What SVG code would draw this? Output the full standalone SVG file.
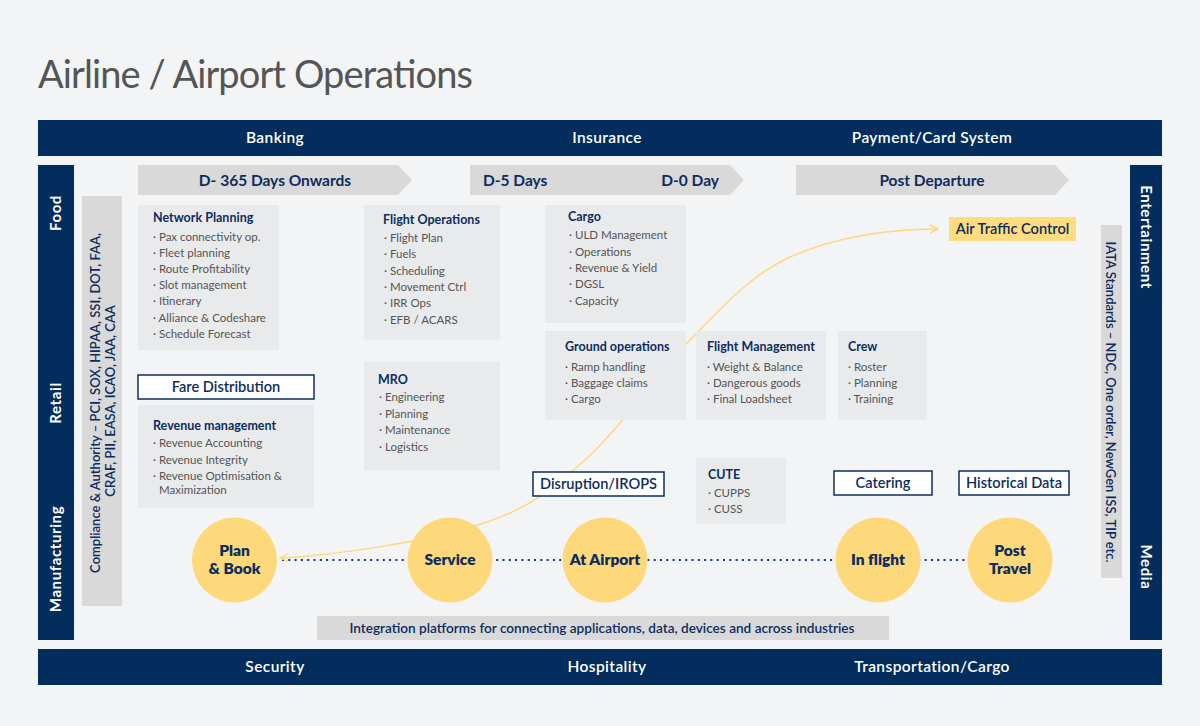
<svg xmlns="http://www.w3.org/2000/svg" width="1200" height="726" viewBox="0 0 1200 726">
<defs>
<style>
.bg{fill:#f3f4f6}
.navy{fill:#022d5c}
.band{fill:#fff;font-family:Lato,"Open Sans",sans-serif;font-size:15.5px;font-weight:600;letter-spacing:0.4px;text-anchor:middle}
.side{fill:#fff;font-family:Lato,"Open Sans",sans-serif;font-size:15px;font-weight:700;letter-spacing:0.6px;text-anchor:middle}
.chev{fill:#d9d9d9}
.chevt{fill:#0d2d5e;font-family:Lato,"Open Sans",sans-serif;font-size:15.5px;font-weight:700}
.box{fill:#e9eaec}
.hd{fill:#0d2d5e;font-family:Lato,"Open Sans",sans-serif;font-size:12.5px;font-weight:700}
.intt{fill:#0d2d5e;font-family:Lato,"Open Sans",sans-serif;font-size:13.6px;font-weight:600;text-anchor:middle}
.it{fill:#555;font-family:Lato,"Open Sans",sans-serif;font-size:11.5px}
.ob{fill:#fff;stroke:#0d2d5e;stroke-width:1.5}
.obt{fill:#0d2d5e;font-family:Lato,"Open Sans",sans-serif;font-size:14.6px;font-weight:600;text-anchor:middle}
.circ{fill:#fdd97b}
.ct{fill:#0d2d5e;font-family:Lato,"Open Sans",sans-serif;font-size:15.5px;font-weight:800;text-anchor:middle}
.gbar{fill:#d9d9d9}
.vt{fill:#0d2d5e;font-family:Lato,"Open Sans",sans-serif;font-size:13px;font-weight:600;text-anchor:middle}
</style>
<marker id="arr" viewBox="0 0 10 10" refX="9" refY="5" markerWidth="10" markerHeight="10" markerUnits="userSpaceOnUse" orient="auto-start-reverse">
<path d="M1,1 L9,5 L1,9" fill="none" stroke="#fdd97b" stroke-width="1.4"/>
</marker>
</defs>
<rect class="bg" x="0" y="0" width="1200" height="726"/>
<text x="38" y="88" fill="#555" font-family="Lato,'Open Sans',sans-serif" font-size="38" textLength="435">Airline / Airport Operations</text>

<g id="top-band">
<rect class="navy" x="38" y="120" width="1124" height="36"/>
<text class="band" x="275" y="143">Banking</text>
<text class="band" x="607" y="143">Insurance</text>
<text class="band" x="932" y="143">Payment/Card System</text>
</g>
<g id="bottom-band">
<rect class="navy" x="38" y="649" width="1124" height="36"/>
<text class="band" x="275" y="672">Security</text>
<text class="band" x="607" y="672">Hospitality</text>
<text class="band" x="932" y="672">Transportation/Cargo</text>
</g>
<g id="left-band">
<rect class="navy" x="38" y="165" width="36" height="475"/>
<text class="side" transform="translate(61,213) rotate(-90)">Food</text>
<text class="side" transform="translate(61,403) rotate(-90)">Retail</text>
<text class="side" transform="translate(61,559) rotate(-90)">Manufacturing</text>
</g>
<g id="right-band">
<rect class="navy" x="1130" y="165" width="32" height="475"/>
<text class="side" transform="translate(1141,237) rotate(90)">Entertainment</text>
<text class="side" transform="translate(1141,567) rotate(90)">Media</text>
</g>
<g id="compliance">
<rect class="gbar" x="82" y="196" width="40" height="410"/>
<text class="vt" transform="translate(100,403) rotate(-90)">Compliance &amp; Authority – PCI, SOX, HIPAA, SSI, DOT, FAA,</text>
<text class="vt" transform="translate(115,401) rotate(-90)">CRAF, PII, EASA, ICAO, JAA, CAA</text>
</g>
<g id="iata">
<rect class="gbar" x="1101" y="225" width="21" height="353"/>
<text class="vt" transform="translate(1106,402) rotate(90)">IATA Standards – NDC, One order, NewGen ISS, TIP etc.</text>
</g>

<g id="phase-d365">
<path class="chev" d="M138,165 H398 L412,180 L398,195 H138 Z"/>
<text class="chevt" x="275" y="186" text-anchor="middle">D- 365 Days Onwards</text>
</g>
<g id="phase-d5">
<path class="chev" d="M470,165 H730 L744,180 L730,195 H470 Z"/>
<text class="chevt" x="483" y="186">D-5 Days</text>
<text class="chevt" x="719" y="186" text-anchor="end">D-0 Day</text>
</g>
<g id="phase-post">
<path class="chev" d="M796,165 H1055 L1069,180 L1055,195 H796 Z"/>
<text class="chevt" x="932" y="186" text-anchor="middle">Post Departure</text>
</g>

<g id="integration">
<rect class="gbar" x="317" y="616" width="572" height="24"/>
<text class="intt" x="602" y="633">Integration platforms for connecting applications, data, devices and across industries</text>
</g>

<g id="connectors">
<line x1="282" y1="560" x2="968" y2="560" stroke="#1a2f80" stroke-width="2" stroke-dasharray="2 4.3"/>
<path d="M280,558 C340,555 427,541 478,525 C529,509 550,491 585,460 C620,429 656,374 690,340 C724,306 749,276 790,257 C831,239 878,229 938,229" fill="none" stroke="#fdd97b" stroke-width="1.5" marker-start="url(#arr)" marker-end="url(#arr)"/>
</g>

<g id="network-planning">
<rect class="box" x="138" y="205" width="141" height="145"/>
<text class="hd" x="153" y="222">Network Planning</text>
<text class="it" x="153" y="241">· Pax connectivity op.</text>
<text class="it" x="153" y="257">· Fleet planning</text>
<text class="it" x="153" y="273">· Route Profitability</text>
<text class="it" x="153" y="289">· Slot management</text>
<text class="it" x="153" y="305">· Itinerary</text>
<text class="it" x="153" y="322">· Alliance &amp; Codeshare</text>
<text class="it" x="153" y="338">· Schedule Forecast</text>
</g>
<g id="fare-distribution">
<rect class="ob" x="138" y="375" width="176" height="24"/>
<text class="obt" x="226" y="392">Fare Distribution</text>
</g>
<g id="revenue-management">
<rect class="box" x="138" y="405" width="176" height="103"/>
<text class="hd" x="153" y="430">Revenue management</text>
<text class="it" x="153" y="447">· Revenue Accounting</text>
<text class="it" x="153" y="464">· Revenue Integrity</text>
<text class="it" x="153" y="480">· Revenue Optimisation &amp;</text>
<text class="it" x="159" y="494">Maximization</text>
</g>
<g id="flight-operations">
<rect class="box" x="364" y="205" width="136" height="135"/>
<text class="hd" x="383" y="224">Flight Operations</text>
<text class="it" x="384" y="242">· Flight Plan</text>
<text class="it" x="384" y="258">· Fuels</text>
<text class="it" x="384" y="275">· Scheduling</text>
<text class="it" x="384" y="291">· Movement Ctrl</text>
<text class="it" x="384" y="307">· IRR Ops</text>
<text class="it" x="384" y="324">· EFB / ACARS</text>
</g>
<g id="mro">
<rect class="box" x="364" y="362" width="136" height="108"/>
<text class="hd" x="378" y="384">MRO</text>
<text class="it" x="379" y="401">· Engineering</text>
<text class="it" x="379" y="418">· Planning</text>
<text class="it" x="379" y="434">· Maintenance</text>
<text class="it" x="379" y="451">· Logistics</text>
</g>
<g id="cargo">
<rect class="box" x="545" y="205" width="141" height="118"/>
<text class="hd" x="568" y="221">Cargo</text>
<text class="it" x="569" y="239">· ULD Management</text>
<text class="it" x="569" y="256">· Operations</text>
<text class="it" x="569" y="272">· Revenue &amp; Yield</text>
<text class="it" x="569" y="288">· DGSL</text>
<text class="it" x="569" y="305">· Capacity</text>
</g>
<g id="ground-operations">
<rect class="box" x="545" y="331" width="141" height="89"/>
<text class="hd" x="565" y="351">Ground operations</text>
<text class="it" x="565" y="371">· Ramp handling</text>
<text class="it" x="565" y="387">· Baggage claims</text>
<text class="it" x="565" y="403">· Cargo</text>
</g>
<g id="flight-management">
<rect class="box" x="696" y="331" width="130" height="89"/>
<text class="hd" x="707" y="351">Flight Management</text>
<text class="it" x="707" y="371">· Weight &amp; Balance</text>
<text class="it" x="707" y="387">· Dangerous goods</text>
<text class="it" x="707" y="403">· Final Loadsheet</text>
</g>
<g id="crew">
<rect class="box" x="838" y="331" width="89" height="89"/>
<text class="hd" x="848" y="351">Crew</text>
<text class="it" x="848" y="371">· Roster</text>
<text class="it" x="848" y="387">· Planning</text>
<text class="it" x="848" y="403">· Training</text>
</g>
<g id="cute">
<rect class="box" x="696" y="458" width="90" height="66"/>
<text class="hd" x="708" y="479">CUTE</text>
<text class="it" x="708" y="497">· CUPPS</text>
<text class="it" x="708" y="513">· CUSS</text>
</g>
<g id="disruption">
<rect class="ob" x="533" y="472" width="131" height="24"/>
<text class="obt" x="598.5" y="489">Disruption/IROPS</text>
</g>
<g id="catering">
<rect class="ob" x="834" y="471" width="98" height="24"/>
<text class="obt" x="883" y="488">Catering</text>
</g>
<g id="historical-data">
<rect class="ob" x="959" y="471" width="110" height="24"/>
<text class="obt" x="1014" y="488">Historical Data</text>
</g>
<g id="air-traffic-control">
<rect x="949" y="217" width="127" height="24" fill="#fedc7f"/>
<text class="obt" x="1012.5" y="234">Air Traffic Control</text>
</g>

<g id="plan-book">
<circle class="circ" cx="234.5" cy="560" r="42.5"/>
<text class="ct" x="234.5" y="556">Plan</text>
<text class="ct" x="234.5" y="574">&amp; Book</text>
</g>
<g id="service">
<circle class="circ" cx="450" cy="560" r="42.5"/>
<text class="ct" x="450" y="565">Service</text>
</g>
<g id="at-airport">
<circle class="circ" cx="605" cy="560" r="42.5"/>
<text class="ct" x="605" y="565">At Airport</text>
</g>
<g id="in-flight">
<circle class="circ" cx="878" cy="560" r="42.5"/>
<text class="ct" x="878" y="565">In flight</text>
</g>
<g id="post-travel">
<circle class="circ" cx="1010" cy="560" r="42.5"/>
<text class="ct" x="1010" y="556">Post</text>
<text class="ct" x="1010" y="574">Travel</text>
</g>
</svg>
